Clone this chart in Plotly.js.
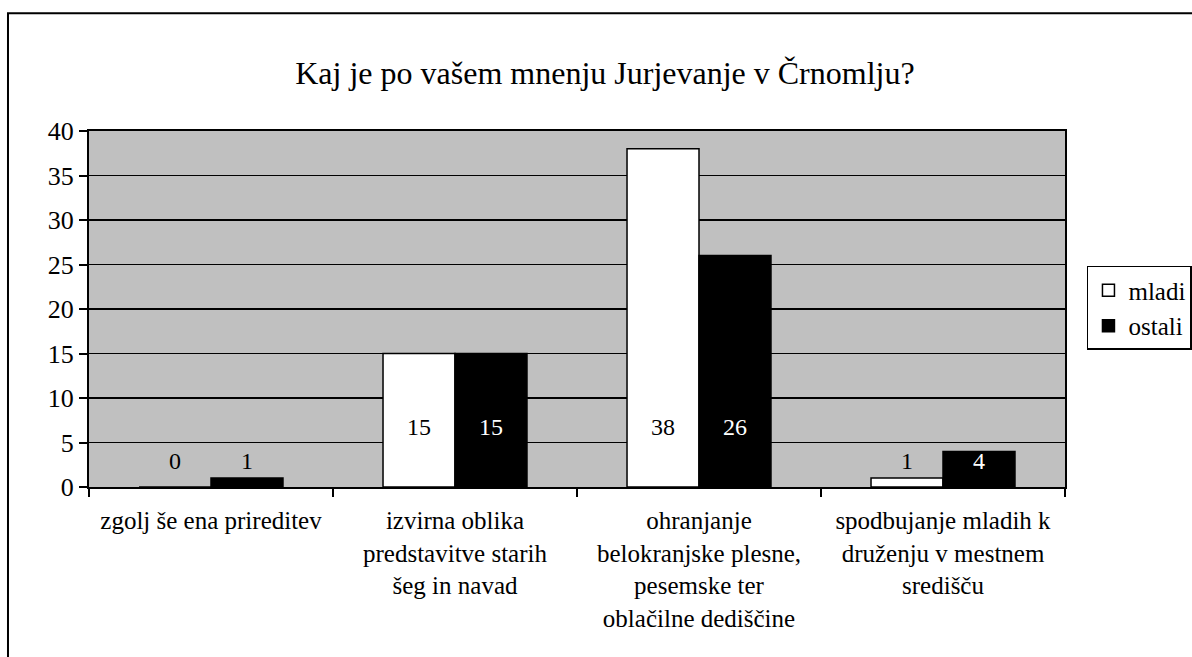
<!DOCTYPE html>
<html>
<head>
<meta charset="utf-8">
<script src="https://cdn.plot.ly/plotly-3.0.1.min.js"></script>
<style>html,body{margin:0;padding:0;background:#fff;}#chart{width:1192px;height:657px;}</style>
</head>
<body>
<div id="chart"></div>
<script>
const chartTitle = "Kaj je po vašem mnenju Jurjevanje v Črnomlju?";
const categories = [
  "zgolj še ena prireditev",
  "izvirna oblika<br>predstavitve starih<br>šeg in navad",
  "ohranjanje<br>belokranjske plesne,<br>pesemske ter<br>oblačilne dediščine",
  "spodbujanje mladih k<br>druženju v mestnem<br>središču"
];
const seriesNames = ["mladi", "ostali"];
const mladi = [0, 15, 38, 1];
const ostali = [1, 15, 26, 4];
const yTicks = [0, 5, 10, 15, 20, 25, 30, 35, 40];

const FONT = "Liberation Serif";

const traces = [
  {type: "bar", name: seriesNames[0], x: categories, y: mladi,
   marker: {color: "#ffffff", line: {color: "#000000", width: 1.5}}, hoverinfo: "none"},
  {type: "bar", name: seriesNames[1], x: categories, y: ostali,
   marker: {color: "#000000", line: {color: "#000000", width: 1.5}}, hoverinfo: "none"}
];

const annotations = [];
function labelY(v){ return v > 10 ? 6.7 : 2.9; }
[[mladi, -36, "#000000", "#000000"], [ostali, 36, "#ffffff", "#000000"]].forEach(([vals, shift, inCol, outCol]) => {
  vals.forEach((v, i) => {
    const yy = labelY(v);
    annotations.push({
      x: categories[i], y: yy, xref: "x", yref: "y", xshift: shift,
      text: String(v), showarrow: false, yanchor: "middle",
      font: {family: FONT, size: 24, color: yy < v ? inCol : outCol}
    });
  });
});

const layout = {
  width: 1192, height: 657,
  margin: {l: 89, r: 127, t: 131, b: 170, autoexpand: false},
  paper_bgcolor: "#ffffff",
  plot_bgcolor: "#c0c0c0",
  font: {family: FONT, size: 25, color: "#000000"},
  title: {text: chartTitle, font: {family: FONT, size: 32, color: "#000000"},
          x: 0.5075, xref: "container", xanchor: "center", y: 0.889, yref: "container", yanchor: "middle"},
  barmode: "group", bargap: 0.41, bargroupgap: 0,
  showlegend: true,
  legend: {x: 1.0225, y: 0.621, xref: "paper", yref: "paper", xanchor: "left", yanchor: "top",
           bordercolor: "#000000", borderwidth: 1.5, bgcolor: "#ffffff",
           font: {family: FONT, size: 25, color: "#000000"}, itemwidth: 30, tracegroupgap: 0},
  xaxis: {type: "category", showline: true, linecolor: "#000000", linewidth: 2, mirror: true,
          ticks: "outside", tickson: "boundaries", ticklen: 8, tickwidth: 2, tickcolor: "#000000",
          ticklabelstandoff: 10,
          showgrid: false, tickfont: {family: FONT, size: 25}, fixedrange: true},
  yaxis: {range: [0, 40], tickvals: yTicks, ticktext: yTicks.map(String),
          showline: true, linecolor: "#000000", linewidth: 2, mirror: true,
          ticks: "outside", ticklen: 8, tickwidth: 2, tickcolor: "#000000",
          showgrid: true, gridcolor: "#000000", gridwidth: 1.5, zeroline: false,
          tickfont: {family: FONT, size: 26}, fixedrange: true},
  shapes: [{type: "rect", xref: "paper", yref: "paper", x0: -0.083, x1: 1.3, y0: -1, y1: 1.331,
            line: {color: "#000000", width: 2}, fillcolor: "rgba(0,0,0,0)", layer: "below"}],
  annotations: annotations
};

Plotly.newPlot("chart", traces, layout, {displayModeBar: false, staticPlot: true});
</script>
</body>
</html>
